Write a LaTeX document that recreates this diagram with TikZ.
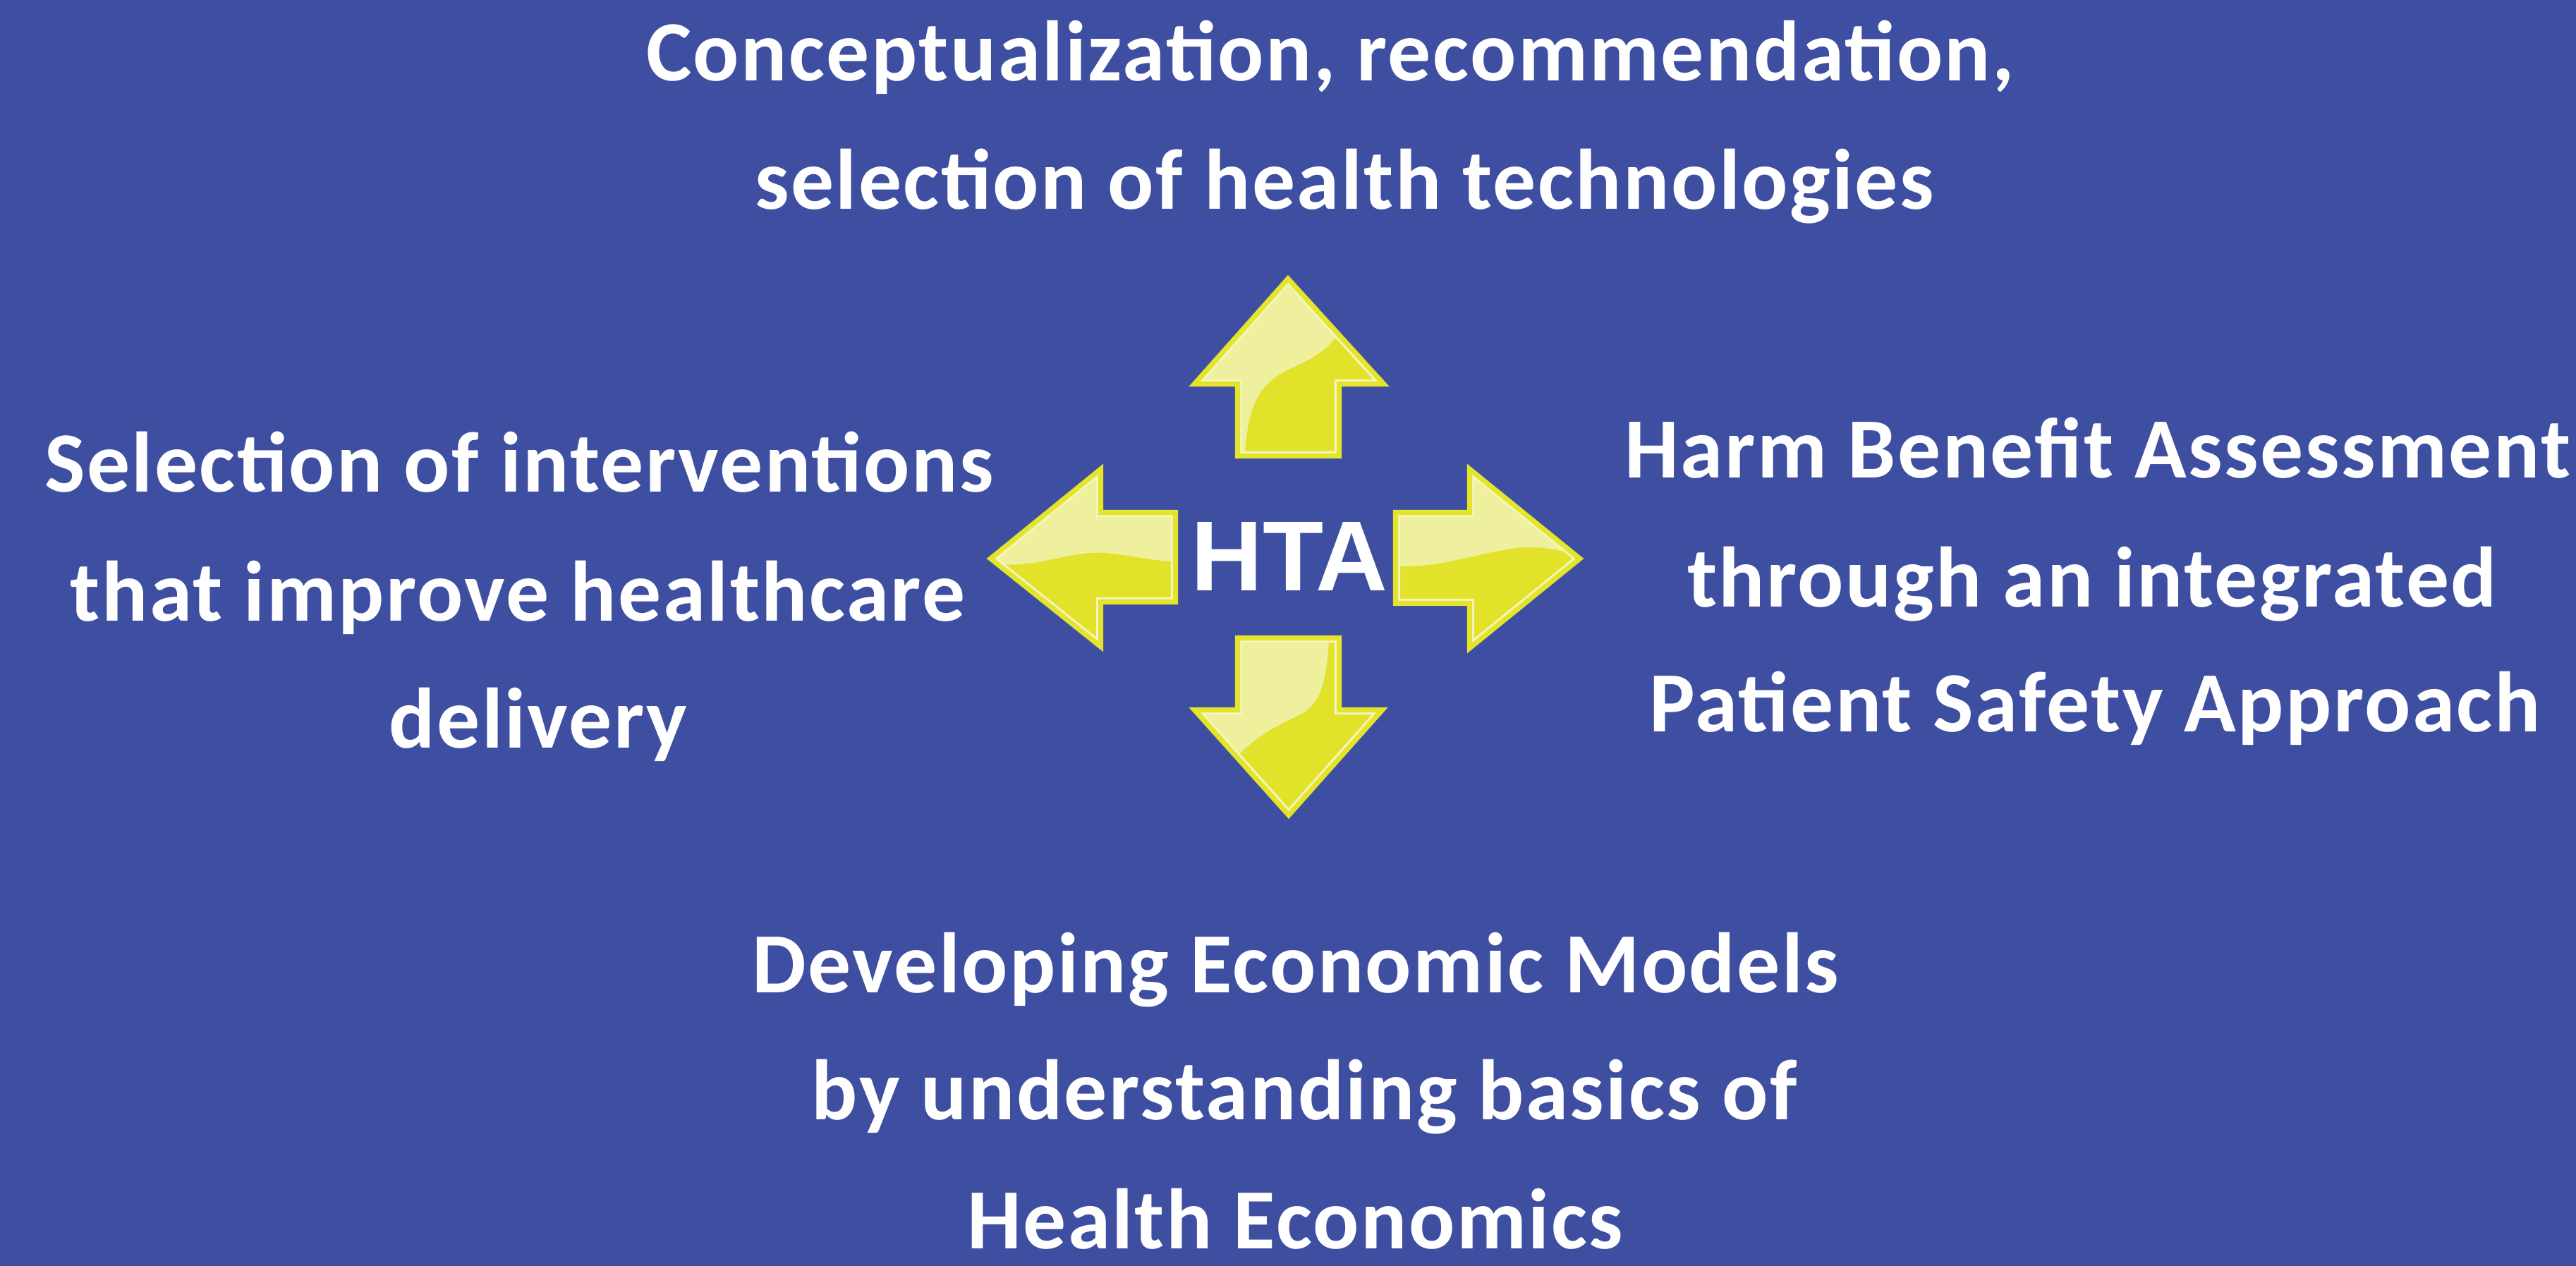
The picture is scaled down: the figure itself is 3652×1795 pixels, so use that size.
\documentclass[tikz,border=0pt]{standalone}
\usepackage{fontspec}
\newfontfamily\labfont{Carlito}[LetterSpace=2]
\newfontfamily\htafont{Liberation Sans}
\definecolor{bg}{HTML}{3E4FA1}
\definecolor{ydark}{HTML}{E2E22B}
\definecolor{ylight}{HTML}{EEF09E}
\definecolor{yedge}{HTML}{E4E42A}
\definecolor{ypale}{HTML}{F4F5C0}
\newcommand\PathUp{(1753,648) -- (1753,546) -- (1690,546) -- (1826,393) -- (1965,546) -- (1900,546) -- (1900,648) -- cycle}
\newcommand\PathDown{(1753,903) -- (1900,903) -- (1900,1005) -- (1963,1005) -- (1827,1158) -- (1690,1005) -- (1753,1005) -- cycle}
\newcommand\PathLeft{(1668,725) -- (1562,725) -- (1562,662) -- (1402,792) -- (1562,920) -- (1562,855) -- (1668,855) -- cycle}
\newcommand\PathRight{(1977,725) -- (2082,725) -- (2082,662) -- (2242,792) -- (2082,922) -- (2082,857) -- (1977,857) -- cycle}
\begin{document}
\begin{tikzpicture}[x=0.01cm,y=-0.01cm,
  lab/.style={text=white, font=\labfont\bfseries\fontsize{34.6}{41}\selectfont, inner sep=0pt, anchor=base},
  htalab/.style={text=white, font=\htafont\bfseries\fontsize{40.1}{48}\selectfont, inner sep=0pt, anchor=base},
  paleline/.style={draw=ypale, line width=4.6pt, line join=miter},
  inedge/.style={draw=yedge, line width=2.9pt, line join=miter},
  outedge/.style={draw=yedge, line width=1.2pt, line join=miter}]
\fill[bg] (0,0) rectangle (3652,1795);
\useasboundingbox (0,0) rectangle (3652,1795);

% up arrow
\begin{scope}
  \clip \PathUp;
  \fill[ydark] (1650,370) rectangle (2000,680);
  \fill[ylight] (1765,650) .. controls (1768,560) and (1795,538) .. (1835,520)
     .. controls (1868,505) and (1888,492) .. (1905,460) -- (2000,420) -- (2000,370) -- (1650,370) -- (1650,650) -- cycle;
  \draw[paleline] \PathUp;
  \draw[inedge] \PathUp;
\end{scope}
\draw[outedge] \PathUp;

% down arrow
\begin{scope}
  \clip \PathDown;
  \fill[ydark] (1650,880) rectangle (2000,1180);
  \fill[ylight] (1740,1090) .. controls (1770,1048) and (1808,1030) .. (1845,1012)
     .. controls (1875,995) and (1883,960) .. (1885,880) -- (1650,880) -- (1650,1090) -- cycle;
  \draw[paleline] \PathDown;
  \draw[inedge] \PathDown;
\end{scope}
\draw[outedge] \PathDown;

% left arrow
\begin{scope}
  \clip \PathLeft;
  \fill[ydark] (1380,640) rectangle (1690,940);
  \fill[ylight] (1380,800) -- (1420,800) .. controls (1470,805) and (1520,780) .. (1567,784)
     .. controls (1610,788) and (1640,797) .. (1690,798) -- (1690,640) -- (1380,640) -- cycle;
  \draw[paleline] \PathLeft;
  \draw[inedge] \PathLeft;
\end{scope}
\draw[outedge] \PathLeft;

% right arrow
\begin{scope}
  \clip \PathRight;
  \fill[ydark] (1960,640) rectangle (2260,940);
  \fill[ylight] (1960,803) -- (1990,803) .. controls (2050,803) and (2090,785) .. (2150,777)
     .. controls (2190,773) and (2215,782) .. (2260,790) -- (2260,640) -- (1960,640) -- cycle;
  \draw[paleline] \PathRight;
  \draw[inedge] \PathRight;
\end{scope}
\draw[outedge] \PathRight;

\node[htalab] (hta) at (1828,838) {HTA};

\node[lab] (t1) at (1886,115) {Conceptualization, recommendation,};
\node[lab] (t2) at (1906,297) {selection of health technologies};
\node[lab] (l1) at (736,698) {Selection of interventions};
\node[lab] (l2) at (734,880) {that improve healthcare};
\node[lab] (l3) at (763,1060) {delivery};
\node[lab] (r1) at (2974,678) {Harm Benefit Assessment};
\node[lab] (r2) at (2966,860) {through an integrated};
\node[lab] (r3) at (2970,1037) {Patient Safety Approach};
\node[lab] (b1) at (1837,1407) {Developing Economic Models};
\node[lab] (b2) at (1849,1587) {by understanding basics of};
\node[lab] (b3) at (1836,1770) {Health Economics};
\end{tikzpicture}
\end{document}
